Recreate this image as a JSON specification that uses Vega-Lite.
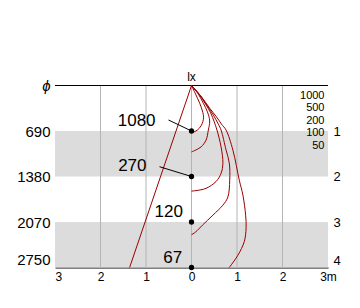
{
  "$schema": "https://vega.github.io/schema/vega-lite/v6.json",
  "width": 273,
  "height": 182,
  "autosize": {"type": "none"},
  "padding": {"left": 55, "top": 85.5, "right": 32, "bottom": 40.5},
  "background": "white",
  "config": {
    "view": {"stroke": null},
    "font": "Liberation Sans",
    "axis": {"labelColor": "black", "labelFont": "Liberation Sans"}
  },
  "datasets": {
    "bands": [{"d1": 1, "d2": 2}, {"d1": 3, "d2": 4}],
    "grid": [{"gx": -2}, {"gx": -1}, {"gx": 0}, {"gx": 1}, {"gx": 2}],
    "beam": [{"x1": 0, "y1": 0, "x2": -1.36, "y2": 4}],
    "leaders": [{"x1": -0.505, "y1": 0.758, "x2": 0, "y2": 1}, {"x1": -0.703, "y1": 1.785, "x2": 0, "y2": 2}],
    "curves": [
      {"lx": 1000, "i": 0, "x": 0, "d": 0},
      {"lx": 1000, "i": 1, "x": 0.09, "d": 0.19},
      {"lx": 1000, "i": 2, "x": 0.18, "d": 0.39},
      {"lx": 1000, "i": 3, "x": 0.24, "d": 0.56},
      {"lx": 1000, "i": 4, "x": 0.265, "d": 0.71},
      {"lx": 1000, "i": 5, "x": 0.22, "d": 0.87},
      {"lx": 1000, "i": 6, "x": 0.13, "d": 0.98},
      {"lx": 1000, "i": 7, "x": 0.03, "d": 1.03},
      {"lx": 1000, "i": 8, "x": 0, "d": 1.04},
      {"lx": 500, "i": 0, "x": 0, "d": 0},
      {"lx": 500, "i": 1, "x": 0.15, "d": 0.19},
      {"lx": 500, "i": 2, "x": 0.26, "d": 0.39},
      {"lx": 500, "i": 3, "x": 0.35, "d": 0.58},
      {"lx": 500, "i": 4, "x": 0.4, "d": 0.78},
      {"lx": 500, "i": 5, "x": 0.37, "d": 0.98},
      {"lx": 500, "i": 6, "x": 0.32, "d": 1.2},
      {"lx": 500, "i": 7, "x": 0.21, "d": 1.35},
      {"lx": 500, "i": 8, "x": 0.07, "d": 1.43},
      {"lx": 500, "i": 9, "x": 0, "d": 1.46},
      {"lx": 200, "i": 0, "x": 0, "d": 0},
      {"lx": 200, "i": 1, "x": 0.18, "d": 0.21},
      {"lx": 200, "i": 2, "x": 0.31, "d": 0.41},
      {"lx": 200, "i": 3, "x": 0.42, "d": 0.6},
      {"lx": 200, "i": 4, "x": 0.5, "d": 0.8},
      {"lx": 200, "i": 5, "x": 0.56, "d": 0.98},
      {"lx": 200, "i": 6, "x": 0.65, "d": 1.35},
      {"lx": 200, "i": 7, "x": 0.69, "d": 1.71},
      {"lx": 200, "i": 8, "x": 0.65, "d": 1.93},
      {"lx": 200, "i": 9, "x": 0.54, "d": 2.11},
      {"lx": 200, "i": 10, "x": 0.32, "d": 2.26},
      {"lx": 200, "i": 11, "x": 0.1, "d": 2.31},
      {"lx": 200, "i": 12, "x": 0, "d": 2.32},
      {"lx": 100, "i": 0, "x": 0, "d": 0},
      {"lx": 100, "i": 1, "x": 0.2, "d": 0.23},
      {"lx": 100, "i": 2, "x": 0.35, "d": 0.45},
      {"lx": 100, "i": 3, "x": 0.48, "d": 0.65},
      {"lx": 100, "i": 4, "x": 0.59, "d": 0.85},
      {"lx": 100, "i": 5, "x": 0.65, "d": 0.98},
      {"lx": 100, "i": 6, "x": 0.76, "d": 1.42},
      {"lx": 100, "i": 7, "x": 0.83, "d": 1.7},
      {"lx": 100, "i": 8, "x": 0.84, "d": 2.08},
      {"lx": 100, "i": 9, "x": 0.8, "d": 2.45},
      {"lx": 100, "i": 10, "x": 0.69, "d": 2.63},
      {"lx": 100, "i": 11, "x": 0.47, "d": 2.85},
      {"lx": 100, "i": 12, "x": 0.24, "d": 3.07},
      {"lx": 100, "i": 13, "x": 0.09, "d": 3.22},
      {"lx": 100, "i": 14, "x": 0, "d": 3.28},
      {"lx": 50, "i": 0, "x": 0, "d": 0},
      {"lx": 50, "i": 1, "x": 0.22, "d": 0.25},
      {"lx": 50, "i": 2, "x": 0.4, "d": 0.5},
      {"lx": 50, "i": 3, "x": 0.55, "d": 0.69},
      {"lx": 50, "i": 4, "x": 0.66, "d": 0.85},
      {"lx": 50, "i": 5, "x": 0.76, "d": 0.98},
      {"lx": 50, "i": 6, "x": 0.91, "d": 1.42},
      {"lx": 50, "i": 7, "x": 1.05, "d": 2.08},
      {"lx": 50, "i": 8, "x": 1.13, "d": 2.41},
      {"lx": 50, "i": 9, "x": 1.19, "d": 2.85},
      {"lx": 50, "i": 10, "x": 1.2, "d": 3.13},
      {"lx": 50, "i": 11, "x": 1.16, "d": 3.43},
      {"lx": 50, "i": 12, "x": 1.02, "d": 3.73},
      {"lx": 50, "i": 13, "x": 0.83, "d": 4.0}
    ],
    "points": [
      {"E": 1080, "d": 1, "lx_x": -0.79, "lx_d": 0.791},
      {"E": 270, "d": 2, "lx_x": -0.989, "lx_d": 1.78},
      {"E": 120, "d": 3, "lx_x": -0.19, "lx_d": 2.78},
      {"E": 67, "d": 4, "lx_x": -0.204, "lx_d": 3.791}
    ],
    "legend": [
      {"lx": 1000, "x": 2.923, "d": 0.224},
      {"lx": 500, "x": 2.923, "d": 0.503},
      {"lx": 200, "x": 2.923, "d": 0.774},
      {"lx": 100, "x": 2.923, "d": 1.044},
      {"lx": 50, "x": 2.923, "d": 1.323}
    ]
  },
  "layer": [
    {
      "data": {"name": "bands"},
      "mark": {"type": "rect", "color": "#dcdcdc"},
      "encoding": {
        "x": {"datum": -3, "type": "quantitative", "scale": {"domain": [-3, 3], "nice": false, "zero": false}, "axis": null},
        "x2": {"datum": 3},
        "y": {"field": "d1", "type": "quantitative", "scale": {"domain": [0, 4], "reverse": true, "nice": false, "zero": false},
          "axis": {
            "values": [0, 1, 2, 3, 4],
            "labelExpr": "['ϕ', '690', '1380', '2070', '2750'][datum.value]",
            "labelFontStyle": {"condition": {"test": "datum.value == 0", "value": "italic"}, "value": "normal"},
            "labelBaseline": {"condition": {"test": "datum.value == 4", "value": "bottom"}, "value": "middle"},
            "labelFontSize": 15,
            "labelPadding": 5,
            "ticks": false,
            "grid": false,
            "domain": false,
            "title": null
          }},
        "y2": {"field": "d2"}
      }
    },
    {
      "data": {"name": "grid"},
      "mark": {"type": "rule", "color": "#b4b4b4", "strokeWidth": 1},
      "encoding": {
        "x": {"field": "gx", "type": "quantitative", "axis": null}
      }
    },
    {
      "data": {"values": [{}]},
      "mark": {"type": "rule", "color": "black", "strokeWidth": 1},
      "encoding": {
        "y": {"datum": 0, "type": "quantitative", "axis": null}
      }
    },
    {
      "data": {"name": "beam"},
      "mark": {"type": "rule", "color": "#990000", "strokeWidth": 1},
      "encoding": {
        "x": {"field": "x1", "type": "quantitative", "axis": null},
        "x2": {"field": "x2"},
        "y": {"field": "y1", "type": "quantitative", "axis": null},
        "y2": {"field": "y2"}
      }
    },
    {
      "data": {"name": "curves"},
      "mark": {"type": "line", "color": "#990000", "strokeWidth": 1, "interpolate": "catmull-rom"},
      "encoding": {
        "x": {"field": "x", "type": "quantitative",
          "axis": {
            "orient": "bottom",
            "values": [-3, -2, -1, 0, 1, 2, 3],
            "labelExpr": "datum.value == 3 ? '3m' : '' + abs(datum.value)",
            "labelAlign": {"condition": {"test": "datum.value == -3", "value": "left"}, "value": "center"},
            "labelFontSize": 12,
            "labelPadding": 4,
            "ticks": false,
            "grid": false,
            "domain": true,
            "domainColor": "black",
            "labelOverlap": false,
            "title": null
          }},
        "y": {"field": "d", "type": "quantitative", "axis": null},
        "detail": {"field": "lx", "type": "nominal"},
        "order": {"field": "i", "type": "quantitative"}
      }
    },
    {
      "data": {"name": "leaders"},
      "mark": {"type": "rule", "color": "black", "strokeWidth": 1},
      "encoding": {
        "x": {"field": "x1", "type": "quantitative", "axis": null},
        "x2": {"field": "x2"},
        "y": {"field": "y1", "type": "quantitative", "axis": null},
        "y2": {"field": "y2"}
      }
    },
    {
      "data": {"name": "points"},
      "mark": {"type": "point", "filled": true, "color": "black", "size": 28, "opacity": 1},
      "encoding": {
        "x": {"datum": 0, "type": "quantitative", "axis": null},
        "y": {"field": "d", "type": "quantitative",
          "axis": {
            "orient": "right",
            "values": [1, 2, 3, 4],
            "labelBaseline": {"condition": {"test": "datum.value == 4", "value": "bottom"}, "value": "middle"},
            "labelFontSize": 13,
            "labelPadding": 5,
            "ticks": false,
            "grid": false,
            "domain": false,
            "title": null
          }}
      }
    },
    {
      "data": {"name": "points"},
      "mark": {"type": "text", "align": "right", "baseline": "middle", "fontSize": 17, "color": "black"},
      "encoding": {
        "x": {"field": "lx_x", "type": "quantitative", "axis": null},
        "y": {"field": "lx_d", "type": "quantitative", "axis": null},
        "text": {"field": "E"}
      }
    },
    {
      "data": {"name": "legend"},
      "mark": {"type": "text", "align": "right", "baseline": "middle", "fontSize": 11, "color": "black"},
      "encoding": {
        "x": {"field": "x", "type": "quantitative", "axis": null},
        "y": {"field": "d", "type": "quantitative", "axis": null},
        "text": {"field": "lx"}
      }
    },
    {
      "data": {"values": [{"unit": "lx"}]},
      "mark": {"type": "text", "align": "center", "baseline": "alphabetic", "dy": -4.5, "fontSize": 12, "color": "black"},
      "encoding": {
        "x": {"datum": 0, "type": "quantitative", "axis": null},
        "y": {"datum": 0, "type": "quantitative", "axis": null},
        "text": {"field": "unit"}
      }
    }
  ],
  "resolve": {"axis": {"x": "independent", "y": "independent"}}
}
